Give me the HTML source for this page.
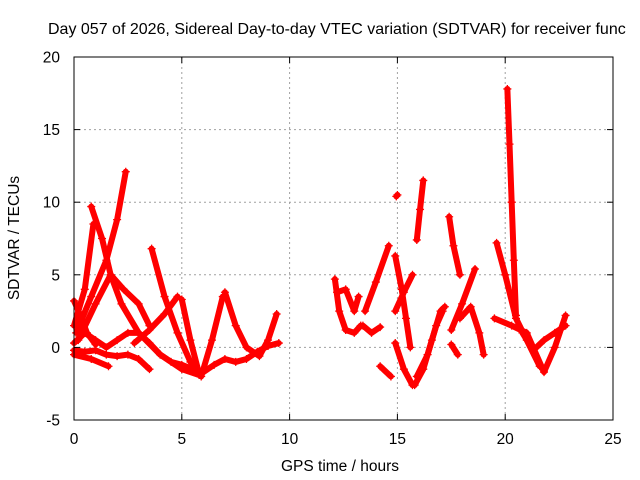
<!DOCTYPE html>
<html><head><meta charset="utf-8"><style>
body{margin:0;background:#fff;overflow:hidden;}
svg{display:block;font-family:"Liberation Sans",sans-serif;}
</style></head><body>
<svg id="chart" width="640" height="480">
<text x="48" y="34" font-size="16" fill="#000">Day 057 of 2026, Sidereal Day-to-day VTEC variation (SDTVAR) for receiver func</text>
<g id="grid"></g><g id="marks"></g><g id="axes"></g>
<text x="340" y="471" font-size="15.5" text-anchor="middle">GPS time / hours</text>
<text transform="translate(19,238) rotate(-90)" font-size="15.5" text-anchor="middle">SDTVAR / TECUs</text>
</svg>
<script>
const xTicks=[0,5,10,15,20,25];
const yTicks=[-5,0,5,10,15,20];
const trackA=[[0.1,1.0],[0.8,3.5],[1.5,6],[2.0,8.8],[2.4,12.1]];
const trackB=[[0.8,9.7],[1.3,7.5],[1.7,5.0],[2.2,3.0],[3.0,1.0],[4.0,-0.5],[5.0,-1.5],[5.8,-1.9]];
const trackC=[[0.0,1.5],[0.5,4.0],[0.9,8.5]];
const trackD=[[0.2,0.5],[1.0,3.0],[1.7,5.0],[2.3,4.0],[3.0,3.0],[3.5,1.5]];
const trackE=[[3.6,6.8],[4.2,3.5],[4.8,1.0],[5.4,-1.0],[5.9,-2.0],[6.4,0.5],[6.9,3.5]];
const trackF=[[2.8,0.3],[3.5,1.2],[4.2,2.3],[4.8,3.5]];
const trackF2=[[5.0,3.3],[5.4,0.5],[5.8,-1.8]];
const trackG=[[7.0,3.8],[7.5,1.5],[8.0,0],[8.6,-0.6],[9.0,0.5],[9.4,2.3]];
const trackH=[[0,-0.5],[0.8,-0.8],[1.6,-1.3]];
const trackI=[[0,0.3],[0.5,1.0],[1.0,0.5],[1.5,0],[2.0,0.5],[2.5,1.0],[3.0,1.0],[3.5,0.3],[4.0,-0.5],[4.5,-1.0],[5.0,-1.2],[5.5,-1.5],[6.0,-1.7],[6.5,-1.2],[7.0,-0.8],[7.5,-1.0],[8.0,-0.8],[8.5,-0.3],[9.0,0.1],[9.5,0.3]];
const trackJ=[[0,-0.2],[0.5,-0.3],[1.0,-0.2],[1.5,-0.5],[2.0,-0.6],[2.5,-0.5],[3.0,-0.8],[3.5,-1.5]];
const trackK=[[0,3.2],[0.3,2.2],[0.6,1.0],[1.0,0.2]];
const trackR1=[[12.1,4.7],[12.3,2.5],[12.6,1.2],[13.0,1.0],[13.3,1.5]];
const trackR1b=[[12.2,3.8],[12.6,4.0],[13.0,2.5],[13.2,3.5]];
const trackR2=[[13.5,2.5],[14.0,4.5],[14.6,7.0]];
const trackR3=[[13.4,1.5],[13.8,1.0],[14.2,1.4]];
const trackR4=[[14.2,-1.3],[14.7,-2.0]];
const trackR4b=[[14.95,10.4],[15.0,10.5]];
const trackR5=[[14.9,6.3],[15.2,4.0],[15.4,2.0],[15.6,0]];
const trackR6=[[14.9,2.5],[15.3,3.8],[15.7,5.0]];
const trackR7=[[14.9,0.3],[15.3,-1.5],[15.7,-2.6]];
const trackR8=[[15.8,-2.6],[16.2,-1.5],[16.6,0.5],[17.0,2.5],[17.2,2.8]];
const trackR8b=[[15.9,-2.0],[16.4,-0.5],[16.8,1.5],[17.1,2.5]];
const trackR9=[[15.9,7.4],[16.05,9.5],[16.2,11.5]];
const trackR10=[[17.4,9.0],[17.6,7.0],[17.9,5.0]];
const trackR11=[[17.5,1.2],[18.0,3.0],[18.6,5.4]];
const trackR12=[[17.5,0.2],[17.8,-0.5]];
const trackR13=[[17.9,2.0],[18.4,2.8],[18.8,1.0],[19.0,-0.5]];
const trackR14=[[19.6,7.2],[20.0,5.0],[20.5,2.0],[21.0,0.5],[21.6,-1.3]];
const trackR15=[[20.1,17.8],[20.2,14.0],[20.3,10.0],[20.4,6.0],[20.5,2.2]];
const trackR16=[[19.5,2.0],[20.3,1.5],[21.0,1.0],[21.8,-1.7],[22.3,0],[22.8,2.2]];
const trackR17=[[20.8,1.0],[21.3,-0.2],[21.8,0.5],[22.3,1.0],[22.8,1.5]];
const tracks=[trackA,trackB,trackC,trackD,trackE,trackF,trackF2,trackG,trackH,trackI,trackJ,trackK,trackR1,trackR1b,trackR2,trackR3,trackR4,trackR4b,trackR5,trackR6,trackR7,trackR8,trackR8b,trackR9,trackR10,trackR11,trackR12,trackR13,trackR14,trackR15,trackR16,trackR17];

const X0=74,X1=613,Y0=420,Y1=57;
const xs=v=>X0+(v-0)/(25-0)*(X1-X0);
const ys=v=>Y0-(v+5)/(25)*(Y0-Y1);
const NS="http://www.w3.org/2000/svg";
const grid=document.getElementById('grid'),axes=document.getElementById('axes'),marks=document.getElementById('marks');
function mk(tag,attrs,parent){const e=document.createElementNS(NS,tag);for(const k in attrs)e.setAttribute(k,attrs[k]);parent.appendChild(e);return e;}
xTicks.forEach(t=>{
  const x=xs(t);
  if(t>0&&t<25){const g=mk('line',{x1:x,x2:x,y1:Y1,y2:Y0,stroke:'#a0a0a0','stroke-dasharray':'2,3'},grid);
  
  }
  mk('line',{x1:x,x2:x,y1:Y0,y2:Y0-6,stroke:'#000'},axes);
  mk('line',{x1:x,x2:x,y1:Y1,y2:Y1+6,stroke:'#000'},axes);
  const l=mk('text',{x:x,y:Y0+24,'font-size':15.5,'text-anchor':'middle'},axes);
  l.textContent=t;
  
  
});
yTicks.forEach(t=>{
  const y=ys(t);
  if(t>-5&&t<20){const g=mk('line',{x1:X0,x2:X1,y1:y,y2:y,stroke:'#a0a0a0','stroke-dasharray':'2,3'},grid);
  
  }
  mk('line',{x1:X0,x2:X0+6,y1:y,y2:y,stroke:'#000'},axes);
  mk('line',{x1:X1,x2:X1-6,y1:y,y2:y,stroke:'#000'},axes);
  const l=mk('text',{x:X0-14,y:y+5.5,'font-size':15.5,'text-anchor':'end'},axes);
  l.textContent=t;
  
  
});
const frame=mk('rect',{x:X0,y:Y1,width:X1-X0,height:Y0-Y1,fill:'none',stroke:'#000'},axes);


tracks.forEach(tr=>{
  const pl=mk('polyline',{points:tr.map(p=>xs(p[0])+','+ys(p[1])).join(' '),fill:'none',stroke:'#ff0000','stroke-width':6,'stroke-linejoin':'round','stroke-linecap':'round'},marks);
  
  
  tr.forEach(p=>{
    const x=xs(p[0]),y=ys(p[1]);
    const m=mk('path',{d:`M${x-4},${y}H${x+4}M${x},${y-4}V${y+4}`,stroke:'#ff0000','stroke-width':1.3},marks);
    
    
  });
});
</script>
</body></html>
